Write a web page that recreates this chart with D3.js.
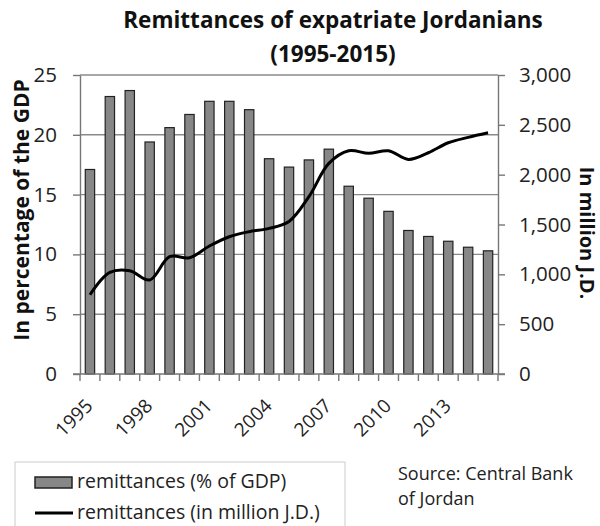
<!DOCTYPE html>
<html><head><meta charset="utf-8">
<script src="https://cdn.jsdelivr.net/npm/d3@7"></script>
<style>
body{margin:0;background:#fff;}
svg{display:block;font-family:"Open Sans",sans-serif;}
</style></head>
<body><svg id="c" width="600" height="526"></svg>
<script>
const years = d3.range(1995, 2016).map(String);
const pctGDP = [17.1,23.2,23.7,19.4,20.6,21.7,22.8,22.8,22.1,18.0,17.3,17.9,18.8,15.7,14.7,13.6,12.0,11.5,11.1,10.6,10.3];
const millionJD = [795,1020,1036,943,1177,1167,1284,1377,1428,1461,1530,1779,2113,2240,2214,2240,2153,2220,2320,2374,2420];
const leftTicks = [0,5,10,15,20,25];
const rightTicks = [0,500,1000,1500,2000,2500,3000];
const xLabelYears = ["1995","1998","2001","2004","2007","2010","2013"];

const svg = d3.select("#c");
const L = 80, R = 498, T = 75, B = 374;
const x = d3.scaleBand().domain(years).range([L, R]).paddingInner(0).paddingOuter(0);
const yL = d3.scaleLinear().domain([0,25]).range([B, T]);
const yR = d3.scaleLinear().domain([0,3000]).range([B, T]);

// gridlines
svg.append("g").selectAll("line").data(leftTicks.filter(d=>d>0)).join("line")
  .attr("x1", L).attr("x2", R).attr("y1", d=>yL(d)).attr("y2", d=>yL(d))
  .attr("stroke", "#8a8a8a").attr("stroke-width", 1.4);

// bars
const bw = x.bandwidth()*0.47;
svg.append("g").selectAll("rect").data(pctGDP).join("rect")
  .attr("x", (d,i)=>x(years[i]) + (x.bandwidth()-bw)/2)
  .attr("y", d=>yL(d)).attr("width", bw).attr("height", d=>B - yL(d))
  .attr("fill", "#878787").attr("stroke", "#222").attr("stroke-width", 1.2);

// line
svg.append("path").datum(millionJD)
  .attr("d", d3.line().x((d,i)=>x(years[i]) + x.bandwidth()/2).y(d=>yR(d)).curve(d3.curveCatmullRom.alpha(0.5)))
  .attr("fill", "none").attr("stroke", "#000").attr("stroke-width", 3);

const axStyle = g => {
  g.selectAll("path,line").attr("stroke", "#777").attr("stroke-width", 1.4);
  g.selectAll("text").attr("fill", "#222").attr("font-size", 20.5).attr("font-family", '"Open Sans",sans-serif');
};
svg.append("g").attr("transform", `translate(${L},0)`)
  .call(d3.axisLeft(yL).tickValues(leftTicks).tickSize(7).tickSizeOuter(0).tickPadding(16))
  .call(axStyle);
svg.append("g").attr("transform", `translate(${R},0)`)
  .call(d3.axisRight(yR).tickValues(rightTicks).tickSize(7).tickSizeOuter(0).tickPadding(14).tickFormat(d3.format(",")))
  .call(axStyle);

// x axis
const xa = svg.append("g").attr("transform", `translate(0,${B})`);
xa.append("line").attr("x1", L - 7).attr("x2", R + 7).attr("stroke", "#777").attr("stroke-width", 1.4);
xa.selectAll("line.t").data(years.concat(["end"])).join("line").attr("class","t")
  .attr("x1", (d,i)=> L + i*x.bandwidth()).attr("x2", (d,i)=> L + i*x.bandwidth())
  .attr("y1", 0).attr("y2", 7).attr("stroke", "#777").attr("stroke-width", 1.4);
xa.selectAll("text").data(xLabelYears).join("text")
  .attr("transform", d=>`translate(${x(d)+x.bandwidth()/2+4},${33}) rotate(-45)`)
  .attr("text-anchor", "end")
  .attr("font-size", 19).attr("fill", "#222").text(d=>d);

// title
svg.append("text").attr("x", 333).attr("y", 28).attr("text-anchor", "middle")
  .attr("font-weight", "bold").attr("font-size", 22.5).attr("fill", "#111").text("Remittances of expatriate Jordanians");
svg.append("text").attr("x", 333).attr("y", 62).attr("text-anchor", "middle")
  .attr("font-weight", "bold").attr("font-size", 22.5).attr("fill", "#111").text("(1995-2015)");

// axis titles
svg.append("text").attr("transform", "translate(22,210) rotate(-90)").attr("text-anchor", "middle")
  .attr("dy", "0.35em").attr("font-weight", "bold").attr("font-size", 21).attr("fill", "#111").text("In percentage of the GDP");
svg.append("text").attr("transform", "translate(587,233) rotate(90)").attr("text-anchor", "middle")
  .attr("dy", "0.35em").attr("font-weight", "bold").attr("font-size", 20).attr("fill", "#111").text("In million J.D.");

// legend
const lg = svg.append("g");
lg.append("rect").attr("x", 15).attr("y", 462).attr("width", 330).attr("height", 80)
  .attr("fill", "#fff").attr("stroke", "#ccc").attr("stroke-width", 1);
lg.append("rect").attr("x", 35).attr("y", 477).attr("width", 37).attr("height", 11)
  .attr("fill", "#878787").attr("stroke", "#222").attr("stroke-width", 1.5);
lg.append("line").attr("x1", 35).attr("x2", 73).attr("y1", 513).attr("y2", 513).attr("stroke", "#000").attr("stroke-width", 3);
lg.append("text").attr("x", 77).attr("y", 488).attr("font-size", 19.5).attr("fill", "#222").text("remittances (% of GDP)");
lg.append("text").attr("x", 77).attr("y", 519).attr("font-size", 19.5).attr("fill", "#222").text("remittances (in million J.D.)");

// source
svg.append("text").attr("x", 398).attr("y", 480).attr("font-size", 18).attr("fill", "#222").text("Source: Central Bank");
svg.append("text").attr("x", 398).attr("y", 505).attr("font-size", 18).attr("fill", "#222").text("of Jordan");
</script></body></html>
